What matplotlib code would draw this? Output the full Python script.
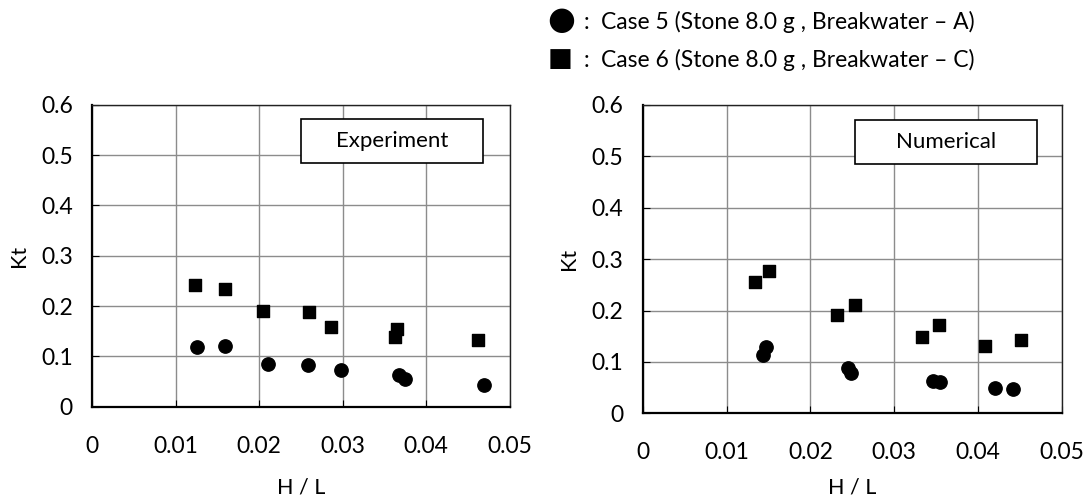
import matplotlib.pyplot as plt
from matplotlib.patches import Rectangle

plt.rcParams['font.family'] = ['Lato', 'DejaVu Sans']

# Experiment
exp_c5_x = [0.0125, 0.0159, 0.0211, 0.0258, 0.0298, 0.0367, 0.0374, 0.0469]
exp_c5_y = [0.118, 0.121, 0.085, 0.082, 0.072, 0.062, 0.056, 0.044]
exp_c6_x = [0.0123, 0.0159, 0.0205, 0.0260, 0.0286, 0.0362, 0.0365, 0.0462]
exp_c6_y = [0.241, 0.233, 0.191, 0.188, 0.158, 0.138, 0.155, 0.133]

# Numerical
num_c5_x = [0.0143, 0.0147, 0.0245, 0.0249, 0.0346, 0.0355, 0.0420, 0.0442]
num_c5_y = [0.114, 0.129, 0.088, 0.078, 0.063, 0.061, 0.050, 0.048]
num_c6_x = [0.0134, 0.0151, 0.0232, 0.0253, 0.0333, 0.0353, 0.0409, 0.0452]
num_c6_y = [0.256, 0.276, 0.192, 0.211, 0.149, 0.172, 0.130, 0.143]

xticks = [0, 0.01, 0.02, 0.03, 0.04, 0.05]
xtick_labels = ['0', '0.01', '0.02', '0.03', '0.04', '0.05']
yticks = [0, 0.1, 0.2, 0.3, 0.4, 0.5, 0.6]
ytick_labels = ['0', '0.1', '0.2', '0.3', '0.4', '0.5', '0.6']

legend_labels = ['Case 5 (Stone 8.0 g , Breakwater \u2013 A)',
                 'Case 6 (Stone 8.0 g , Breakwater \u2013 C)']

fig = plt.figure(figsize=(10.9, 5), dpi=100)
ax1 = fig.add_axes([0.0847, 0.1866, 0.383, 0.604])
ax2 = fig.add_axes([0.5898, 0.1734, 0.3842, 0.6168])


def style(ax, title, box, xpad):
    ax.set_xlim(0, 0.05)
    ax.set_ylim(0, 0.6)
    ax.set_xticks(xticks)
    ax.set_xticklabels(xtick_labels)
    ax.set_yticks(yticks)
    ax.set_yticklabels(ytick_labels)
    ax.tick_params(direction='in', length=5, labelsize=16.5, color='black')
    ax.tick_params(axis='x', pad=21)
    ax.tick_params(axis='y', pad=14)
    ax.grid(color='#8c8c8c', linewidth=1)
    ax.set_axisbelow(True)
    for s in ['top', 'right']:
        ax.spines[s].set_linewidth(1.0)
        ax.spines[s].set_color('#222222')
    for s in ['left', 'bottom']:
        ax.spines[s].set_linewidth(1.6)
    ax.set_xlabel('H / L', fontsize=15.5, labelpad=xpad)
    ax.set_ylabel('Kt', fontsize=15.5, labelpad=9)
    x0, x1, y0, y1 = box
    ax.add_patch(Rectangle((x0, y0), x1 - x0, y1 - y0, transform=ax.transAxes,
                           facecolor='white', edgecolor='black', linewidth=1.2,
                           zorder=3))
    ax.text((x0 + x1) / 2, (y0 + y1) / 2, title, transform=ax.transAxes,
            ha='center', va='center', fontsize=16, zorder=4)


ax1.scatter(exp_c5_x, exp_c5_y, marker='o', s=92, color='black', zorder=5)
ax1.scatter(exp_c6_x, exp_c6_y, marker='s', s=84, color='black', zorder=5)
style(ax1, 'Experiment', (0.499, 0.937, 0.806, 0.952), 15)

ax2.scatter(num_c5_x, num_c5_y, marker='o', s=92, color='black', zorder=5)
ax2.scatter(num_c6_x, num_c6_y, marker='s', s=84, color='black', zorder=5)
style(ax2, 'Numerical', (0.506, 0.942, 0.807, 0.952), 10)

# legend at top
fig.text(560.7 / 1090, 1 - 20.7 / 500, '\u25cf', fontsize=23, ha='center', va='center',
         family='DejaVu Sans')
fig.text(560.5 / 1090, 1 - 59 / 500, '\u25a0', fontsize=19, ha='center', va='center',
         family='DejaVu Sans')
for i, lab in enumerate(legend_labels):
    y = 1 - (29 + 38 * i) / 500
    fig.text(586.7 / 1090, y, ':', fontsize=16.5, ha='center', va='baseline')
    fig.text(601 / 1090, y, lab, fontsize=16.5, ha='left', va='baseline')

plt.savefig('out.png', dpi=100)
